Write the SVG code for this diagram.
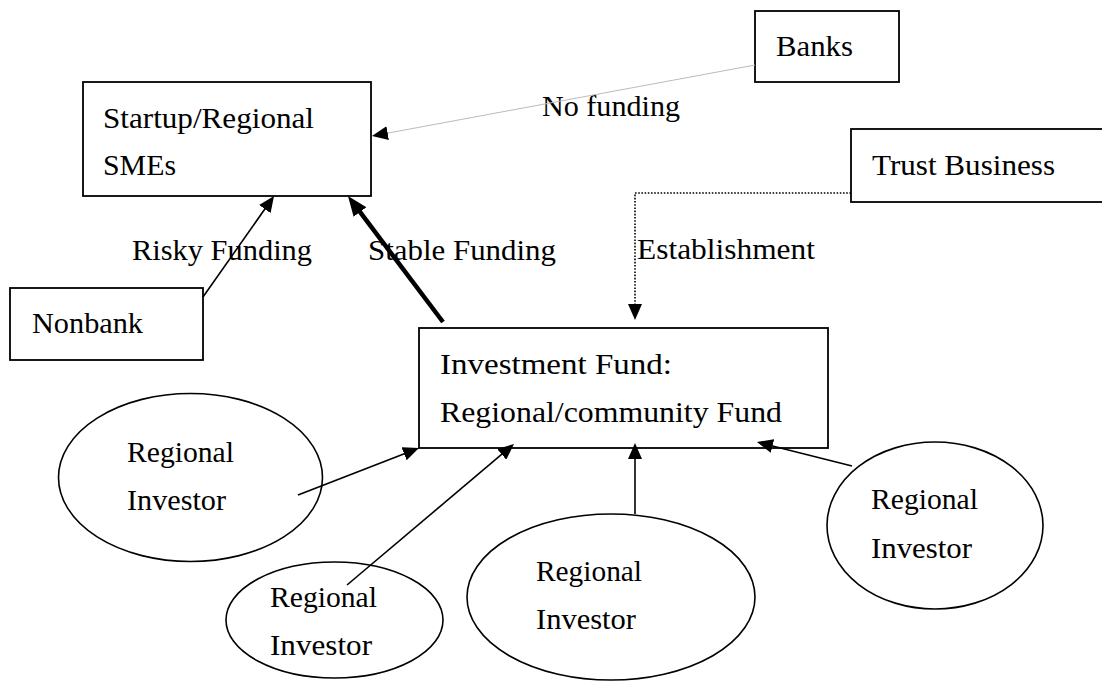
<svg xmlns="http://www.w3.org/2000/svg" width="1102" height="681" viewBox="0 0 1102 681">
<style>
.box{fill:#fff;stroke:#000;stroke-width:1.8}
.ell{fill:#fff;stroke:#000;stroke-width:1.6}
.t{font-family:"Liberation Serif","DejaVu Serif","Times New Roman",serif;font-size:29px;fill:#000}
.c{fill:none;stroke:#000;stroke-width:1.6}
</style>
<defs>
<marker id="ah" markerUnits="userSpaceOnUse" viewBox="0 0 16 14" refX="1" refY="7" markerWidth="16" markerHeight="14" orient="auto"><path d="M0,0 L16,7 L0,14 z" fill="#000"/></marker>
<marker id="ahb" markerUnits="userSpaceOnUse" viewBox="0 0 20 16" refX="1" refY="8" markerWidth="20" markerHeight="16" orient="auto"><path d="M0,0 L20,8 L0,16 z" fill="#000"/></marker>
</defs>
<rect width="1102" height="681" fill="#fff"/>
<g id="startup">
<rect class="box" x="83" y="82" width="288" height="114"/>
<text class="t" x="103" y="128" textLength="211" lengthAdjust="spacingAndGlyphs">Startup/Regional</text>
<text class="t" x="103" y="175" textLength="73" lengthAdjust="spacingAndGlyphs">SMEs</text>
</g>
<g id="banks">
<rect class="box" x="755" y="11" width="144" height="71"/>
<text class="t" x="776" y="56" textLength="77" lengthAdjust="spacingAndGlyphs">Banks</text>
</g>
<g id="trust">
<rect class="box" x="851" y="129" width="260" height="73"/>
<text class="t" x="872" y="175" textLength="183" lengthAdjust="spacingAndGlyphs">Trust Business</text>
</g>
<g id="nonbank">
<rect class="box" x="10" y="288" width="193" height="72"/>
<text class="t" x="32" y="333" textLength="111" lengthAdjust="spacingAndGlyphs">Nonbank</text>
</g>
<g id="fund">
<rect class="box" x="419" y="328" width="409" height="120"/>
<text class="t" x="440" y="374" textLength="232" lengthAdjust="spacingAndGlyphs">Investment Fund:</text>
<text class="t" x="440" y="422" textLength="342" lengthAdjust="spacingAndGlyphs">Regional/community Fund</text>
</g>
<g id="investor1">
<ellipse class="ell" cx="190.5" cy="477.5" rx="132" ry="84"/>
<text class="t" x="127" y="462" textLength="107" lengthAdjust="spacingAndGlyphs">Regional</text>
<text class="t" x="127" y="510" textLength="99" lengthAdjust="spacingAndGlyphs">Investor</text>
</g>
<g id="investor2">
<ellipse class="ell" cx="334.5" cy="620" rx="108.5" ry="58"/>
<text class="t" x="270" y="607" textLength="107" lengthAdjust="spacingAndGlyphs">Regional</text>
<text class="t" x="270" y="655" textLength="102" lengthAdjust="spacingAndGlyphs">Investor</text>
</g>
<g id="investor3">
<ellipse class="ell" cx="611" cy="597" rx="144" ry="83"/>
<text class="t" x="536" y="581" textLength="106" lengthAdjust="spacingAndGlyphs">Regional</text>
<text class="t" x="536" y="629" textLength="100" lengthAdjust="spacingAndGlyphs">Investor</text>
</g>
<g id="investor4">
<ellipse class="ell" cx="935" cy="525.5" rx="108" ry="83.5"/>
<text class="t" x="871" y="509" textLength="107" lengthAdjust="spacingAndGlyphs">Regional</text>
<text class="t" x="871" y="558" textLength="101" lengthAdjust="spacingAndGlyphs">Investor</text>
</g>
<g id="labels">
<text class="t" x="542" y="116" textLength="138" lengthAdjust="spacingAndGlyphs">No funding</text>
<text class="t" x="637" y="259" textLength="178" lengthAdjust="spacingAndGlyphs">Establishment</text>
<text class="t" x="132" y="260" textLength="180" lengthAdjust="spacingAndGlyphs">Risky Funding</text>
<text class="t" x="368" y="260" textLength="188" lengthAdjust="spacingAndGlyphs">Stable Funding</text>
</g>
<g id="connectors">
<line x1="755" y1="65" x2="386.7" y2="133.3" stroke="#bbb" stroke-width="1" marker-end="url(#ah)"/>
<line class="c" x1="203" y1="297" x2="265.4" y2="208.3" marker-end="url(#ah)"/>
<line x1="443" y1="322" x2="359.4" y2="211.2" stroke="#000" stroke-width="4.5" marker-end="url(#ahb)"/>
<path d="M851,193 H635 V305" fill="none" stroke="#000" stroke-width="1.6" stroke-dasharray="1.6 1.6" marker-end="url(#ah)"/>
<line class="c" x1="298" y1="495" x2="405" y2="453.4" marker-end="url(#ah)"/>
<line class="c" x1="347" y1="585" x2="502.5" y2="453.7" marker-end="url(#ah)"/>
<line class="c" x1="635" y1="514" x2="635" y2="458" marker-end="url(#ah)"/>
<line class="c" x1="852" y1="466" x2="771.5" y2="445.7" marker-end="url(#ah)"/>
</g>
</svg>
